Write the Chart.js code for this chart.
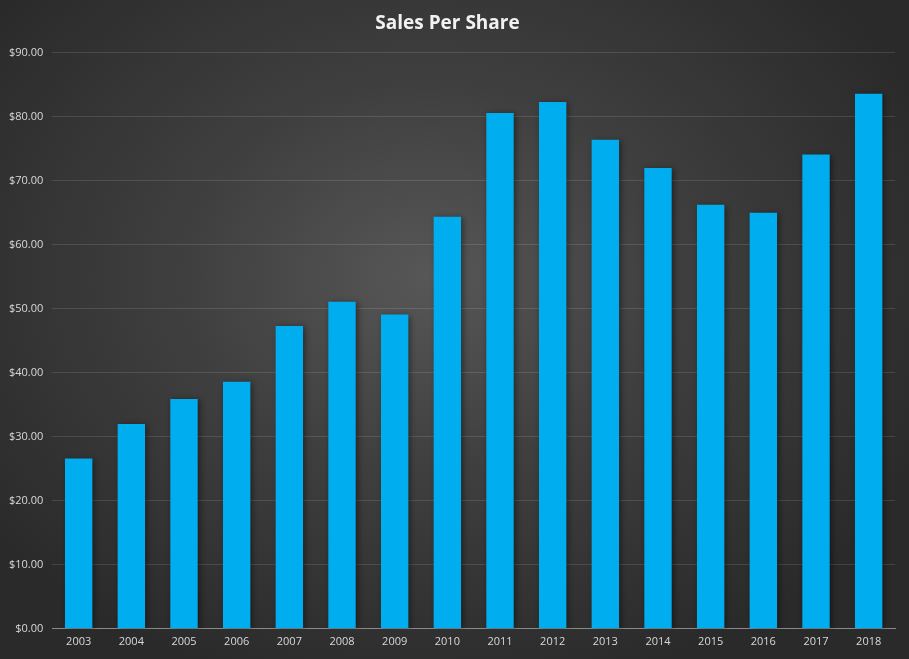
<!DOCTYPE html>
<html lang="en">
<head>
<meta charset="UTF-8">
<title>Sales Per Share</title>
<script src="https://cdn.jsdelivr.net/npm/chart.js"></script>
<style>
  html, body { margin: 0; padding: 0; }
  body {
    width: 909px; height: 659px; overflow: hidden;
    background: radial-gradient(ellipse 60% 65% at 47% 42%, #575757 0%, #3f3f3f 45%, #2a2a2a 100%);
  }
  #wrap { position: relative; width: 909px; height: 659px; }
</style>
</head>
<body>
<div id="wrap"><canvas id="chart" width="909" height="659"></canvas></div>
<script>
// data
const years = ['2003','2004','2005','2006','2007','2008','2009','2010','2011','2012','2013','2014','2015','2016','2017','2018'];
const salesPerShare = [26.6, 32.0, 35.9, 38.6, 47.3, 51.1, 49.1, 64.4, 80.6, 82.3, 76.4, 72.0, 66.25, 65.0, 74.1, 83.6];
const yMax = 90;
const yStep = 10;

// soft drop shadow under the bars
const barShadow = {
  id: 'barShadow',
  beforeDatasetsDraw(chart) {
    const c = chart.ctx;
    c.save();
    c.shadowColor = 'rgba(0,0,0,0.45)';
    c.shadowBlur = 6;
    c.shadowOffsetX = 2;
    c.shadowOffsetY = 1;
  },
  afterDatasetsDraw(chart) { chart.ctx.restore(); }
};

new Chart(document.getElementById('chart'), {
  type: 'bar',
  data: {
    labels: years,
    datasets: [{
      label: 'Sales Per Share',
      data: salesPerShare,
      backgroundColor: '#00adef',
      barPercentage: 1,
      categoryPercentage: 0.52
    }]
  },
  options: {
    responsive: false,
    animation: false,
    layout: { padding: { left: 0, right: 14, top: 9, bottom: 5 } },
    plugins: {
      legend: { display: false },
      tooltip: { enabled: false },
      title: {
        display: true,
        text: 'Sales Per Share',
        color: '#f2f2f2',
        font: { family: 'Open Sans', size: 19, weight: 'bold' },
        padding: { top: 3, bottom: 18 }
      }
    },
    scales: {
      x: {
        grid: { display: false, drawTicks: false },
        border: { color: '#8a8a8a', width: 1 },
        ticks: { color: '#d9d9d9', font: { family: 'Open Sans', size: 11 }, padding: 6 }
      },
      y: {
        min: 0, max: yMax,
        grid: { color: 'rgba(255,255,255,0.12)', drawTicks: false },
        border: { display: false },
        ticks: {
          stepSize: yStep,
          color: '#d9d9d9',
          font: { family: 'Open Sans', size: 11 },
          padding: 9,
          callback: v => '$' + v.toFixed(2)
        }
      }
    }
  },
  plugins: [barShadow]
});
</script>
</body>
</html>
